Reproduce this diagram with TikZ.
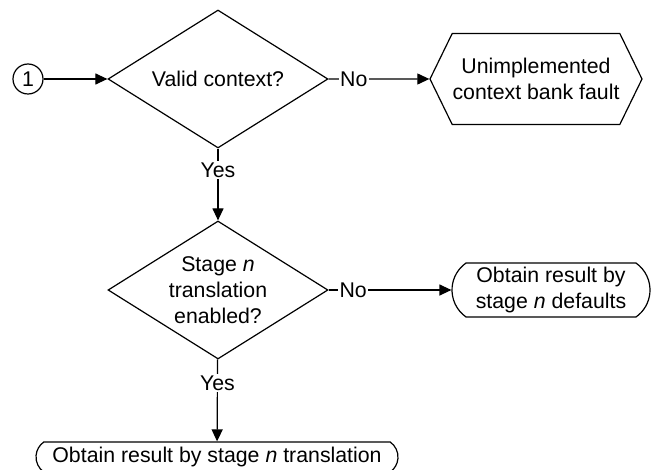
\documentclass[tikz,border=0pt]{standalone}
\usepackage{fontspec}
\setmainfont{Liberation Sans}
\usetikzlibrary{shapes.geometric}
\usetikzlibrary{shapes.misc}
\usetikzlibrary{shapes.symbols}
\usetikzlibrary{arrows.meta}
\tikzstyle{txt}=[font=\fontsize{21.3}{26}\selectfont]
\tikzstyle{box}=[txt, draw, line width=1.2pt, align=center, inner sep=0pt]
\tikzstyle{decision}=[box, diamond, aspect=1.5, minimum width=220pt, minimum height=138pt]
\tikzstyle{fault}=[box, signal, signal to=west and east, signal pointer angle=128, minimum width=212pt, minimum height=91pt]
\tikzstyle{terminal}=[box, rounded rectangle, rounded rectangle arc length=110]
\tikzstyle{connector}=[box, circle, minimum size=30pt]
\tikzstyle{flow}=[line width=1.2pt, -{Triangle[length=12pt, width=11pt]}]
\tikzstyle{answer}=[txt, fill=white, inner sep=1.5pt]

\begin{document}
\begin{tikzpicture}[x=1pt, y=-1pt]
        \useasboundingbox (0, 0) rectangle (652, 470);
        \node[connector] (start) at (28, 79) {1};
        \node[decision] (valid) at (218, 79) {Valid context?};
        \node[fault] (unimpl) at (536, 79) {Unimplemented\\context bank fault};
        \node[decision] (stage) at (218, 290) {Stage \textit{n}\\translation\\enabled?};
        \node[terminal, minimum width=198pt, minimum height=54pt] (defaults) at (551, 290) {Obtain result by\\stage \textit{n} defaults};
        \node[terminal, minimum width=362pt, minimum height=30pt] (result) at (217, 457) {Obtain result by stage \textit{n} translation};
        \draw[flow] (start) -- (valid);
        \draw[flow] (valid) -- node[answer, pos=0.25] {No} (unimpl);
        \draw[flow] (valid) -- node[answer, pos=0.3] {Yes} (stage);
        \draw[flow] (stage) -- node[answer, pos=0.2] {No} (defaults);
        \draw[flow] (stage) -- node[answer, pos=0.29] {Yes} (result);
    \end{tikzpicture}
\end{document}
